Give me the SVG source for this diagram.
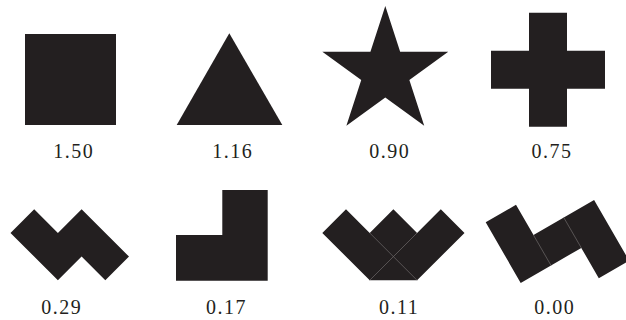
<svg xmlns="http://www.w3.org/2000/svg" width="626" height="320" viewBox="0 0 626 320">
  <style>
    .s { fill: #231f20; stroke: none; }
    .seam { fill: none; stroke: #6e6a6a; stroke-width: 0.7; }
    .lbl { font-family: "Liberation Serif", "Times New Roman", serif; font-size: 20px; letter-spacing: 1.5px; fill: #231f20; text-anchor: middle; }
  </style>
  <rect width="626" height="320" fill="#ffffff"/>
  <g id="square">
    <rect class="s" x="25" y="34" width="91" height="91"/>
    <text class="lbl" x="73.7" y="158.3">1.50</text>
  </g>
  <g id="triangle">
    <polygon class="s" points="229.3,33.3 282.3,125 176.7,125"/>
    <text class="lbl" x="232.7" y="158.3">1.16</text>
  </g>
  <g id="star">
    <polygon class="s" points="385.3,6 400.17,51.73 448.26,51.74 409.36,80.02 424.21,125.76 385.3,97.5 346.39,125.76 361.24,80.02 322.34,51.74 370.43,51.73"/>
    <text class="lbl" x="389.7" y="158.3">0.90</text>
  </g>
  <g id="cross">
    <polygon class="s" points="529,12.7 567,12.7 567,50.7 605,50.7 605,88.7 567,88.7 567,126.7 529,126.7 529,88.7 491,88.7 491,50.7 529,50.7"/>
    <text class="lbl" x="552" y="158.3">0.75</text>
  </g>
  <g id="zigzag">
    <polygon class="s" points="10.5,232.9 34.2,209.2 57.9,232.9 81.6,209.2 129,256.6 105.3,280.3 81.6,256.6 57.9,280.3"/>
    <text class="lbl" x="61.7" y="314.3">0.29</text>
  </g>
  <g id="lshape">
    <polygon class="s" points="176,235 222.3,235 222.3,190 267.7,190 267.7,280.7 176,280.7"/>
    <text class="lbl" x="226.5" y="314.3">0.17</text>
  </g>
  <g id="crown">
    <polygon class="s" points="322.3,232.9 346,209.2 369.7,232.9 393.4,209.2 417.1,232.9 440.8,209.2 464.5,232.9 417.1,280.3 369.7,280.3"/>
    <line class="seam" x1="369.7" y1="232.9" x2="417.1" y2="280.3"/>
    <line class="seam" x1="417.1" y1="232.9" x2="369.7" y2="280.3"/>
    <text class="lbl" x="399.2" y="313.6">0.11</text>
  </g>
  <g id="rotated">
    <polygon class="s" points="485.7,222.3 516,204.8 533.5,235.1 563.8,217.6 594.1,200.1 629.1,260.7 598.8,278.2 581.3,247.9 551,265.4 520.7,282.9"/>
    <line class="seam" x1="533.5" y1="235.1" x2="551" y2="265.4"/>
    <line class="seam" x1="563.8" y1="217.6" x2="581.3" y2="247.9"/>
    <text class="lbl" x="554.7" y="314.3">0.00</text>
  </g>
</svg>
